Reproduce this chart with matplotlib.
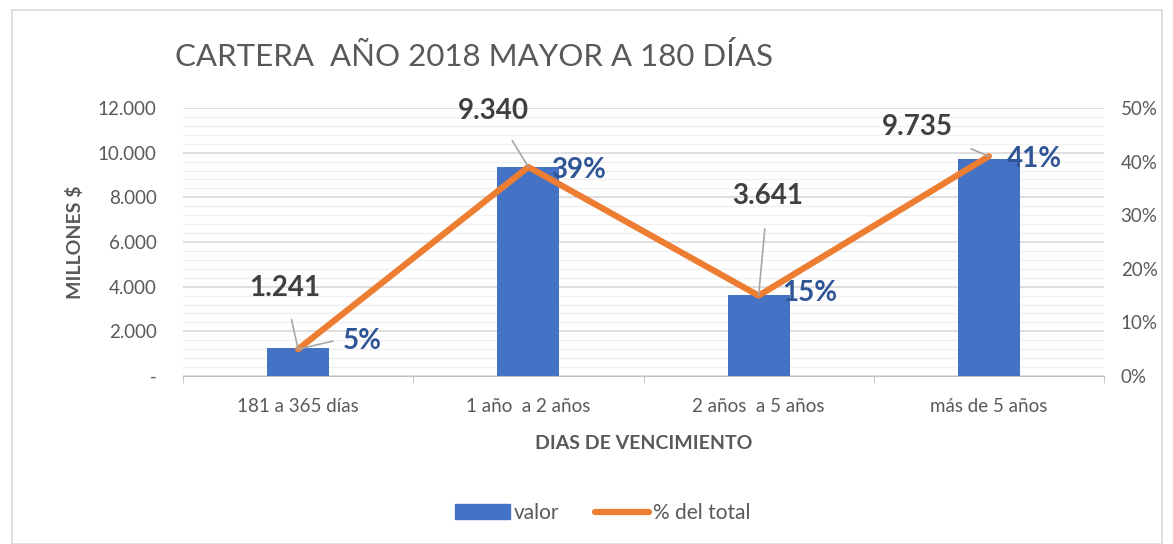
import numpy as np
import matplotlib.pyplot as plt
from matplotlib.patches import Rectangle
from matplotlib.lines import Line2D
from matplotlib.ticker import FixedLocator, MultipleLocator

categorias = ['181 a 365 días', '1 año  a 2 años', '2 años  a 5 años', 'más de 5 años']
valor = [1241, 9340, 3641, 9735]
porcentaje = [5, 39, 15, 41]
valor_txt = ['1.241', '9.340', '3.641', '9.735']
y_ticks = [0, 2000, 4000, 6000, 8000, 10000, 12000]
y_labels = ['-', '2.000', '4.000', '6.000', '8.000', '10.000', '12.000']
pct_ticks = [0, 10, 20, 30, 40, 50]

plt.rcParams['font.family'] = ['Lato', 'DejaVu Sans']
gris = '#595959'
azul = '#4472C4'
naranja = '#ED7D31'

fig = plt.figure(figsize=(11.73, 5.44), dpi=100)
fig.patches.append(Rectangle((12 / 1173, 0), 1150 / 1173, 534 / 544, transform=fig.transFigure,
                             fill=False, edgecolor='#D9D9D9', linewidth=1.2))

ax = fig.add_axes([183 / 1173, 1 - 376 / 544, 921 / 1173, 268 / 544])
x = np.arange(len(categorias))
ax.bar(x, valor, width=0.27, color=azul, zorder=3)
ax.set_xlim(-0.5, 3.5)
ax.set_ylim(0, 12000)
ax.set_yticks(y_ticks)
ax.set_yticklabels(y_labels)
ax.yaxis.set_minor_locator(MultipleLocator(400))
ax.grid(axis='y', which='major', color='#D9D9D9', linewidth=1.2, zorder=0)
ax.grid(axis='y', which='minor', color='#F0F0F0', linewidth=1.0, zorder=0)
ax.tick_params(axis='y', which='both', length=0, labelsize=13.5, labelcolor=gris, pad=19)
ax.set_xticks(x)
ax.set_xticklabels(categorias, fontsize=13.5, color=gris)
ax.xaxis.set_minor_locator(FixedLocator([-0.5, 0.5, 1.5, 2.5, 3.5]))
ax.tick_params(axis='x', which='major', length=0, pad=16)
ax.tick_params(axis='x', which='minor', length=5, color='#BFBFBF')
for s in ['top', 'right', 'left']:
    ax.spines[s].set_visible(False)
ax.spines['bottom'].set_color('#BFBFBF')
ax.set_ylabel('MILLONES $', fontsize=14, fontweight='bold', color=gris, labelpad=10)
ax.set_xlabel('DIAS DE VENCIMIENTO', fontsize=14, fontweight='bold', color=gris, labelpad=14)

ax2 = ax.twinx()
ax2.plot(x, porcentaje, color=naranja, linewidth=4.5, solid_capstyle='round', zorder=4)
ax2.set_ylim(0, 50)
ax2.set_yticks(pct_ticks)
ax2.set_yticklabels([f'{p}%' for p in pct_ticks])
ax2.tick_params(axis='y', length=0, labelsize=13.5, labelcolor=gris, pad=12)
for s in ['top', 'right', 'left', 'bottom']:
    ax2.spines[s].set_visible(False)

# etiquetas de valor (en coordenadas del eje porcentual, con linea guia)
val_off = [(-0.06, 16.5), (-0.15, 49.5), (0.04, 33.5), (-0.31, 46.5)]
for i in range(len(valor)):
    ax2.annotate(valor_txt[i], xy=(x[i], porcentaje[i]), xytext=(x[i] + val_off[i][0], val_off[i][1]),
                 ha='center', va='center', fontsize=20, fontweight='bold', color='#404040',
                 arrowprops=dict(arrowstyle='-', color='#A6A6A6', linewidth=1.2, shrinkA=12, shrinkB=0),
                 zorder=6)

pct_off = [(0.28, 6.5), (0.22, 38.5), (0.22, 15.5), (0.2, 40.5)]
for i in range(len(porcentaje)):
    ax2.text(x[i] + pct_off[i][0], pct_off[i][1], f'{porcentaje[i]}%', ha='center', va='center',
             fontsize=20, fontweight='bold', color='#2F5597', zorder=6)
ax2.plot([x[0], x[0] + 0.15], [porcentaje[0], 6.5], color='#A6A6A6', linewidth=1.2, zorder=5)

fig.text(175 / 1173, 1 - 57 / 544, 'CARTERA  AÑO 2018 MAYOR A 180 DÍAS', fontsize=22.5, color=gris,
         ha='left', va='center')

handles = [Rectangle((0, 0), 1, 1, color=azul), Line2D([0], [0], color=naranja, linewidth=4.5, solid_capstyle='round')]
fig.legend(handles, ['valor', '% del total'], loc='center', bbox_to_anchor=(603 / 1173, 1 - 513 / 544),
           ncol=2, frameon=False, fontsize=15, labelcolor=gris, handlelength=2.6, columnspacing=1.7,
           handletextpad=0.2)

fig.savefig('out.png', dpi=100)
